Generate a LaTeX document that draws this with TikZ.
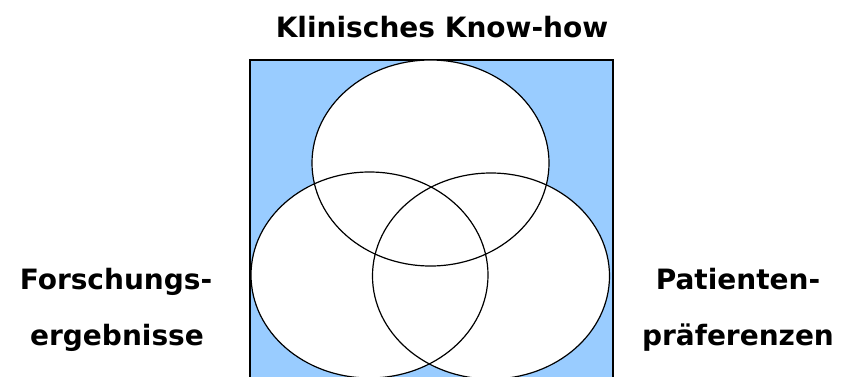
\documentclass[tikz,border=0pt]{standalone}
\usepackage{fontspec}
\setmainfont{DejaVu Sans}
\usetikzlibrary{shapes.geometric}
\definecolor{feldblau}{RGB}{153,204,255}
\begin{document}
\begin{tikzpicture}[x=1pt,y=-1pt,
    kreis/.style={ellipse,draw,line width=1.2pt,inner sep=0pt,
        minimum width=237pt,minimum height=206pt},
    beschriftung/.style={anchor=base,inner sep=0pt,
        font=\bfseries\fontsize{28}{34}\selectfont}]
    \useasboundingbox (0,0) rectangle (847,376);
    \clip (0,0) rectangle (847,376);
    \node[fill=feldblau,draw,line width=1.8pt,inner sep=0pt,anchor=north west,
        minimum width=363pt,minimum height=340pt] (feld) at (249,59) {};
    \foreach \x/\y in {430.5/163,369.5/275,491/276}
    \fill[white] (\x,\y) ellipse [x radius=118.5,y radius=103];
    \foreach \n/\x/\y in {wissen/430.5/163,forschung/369.5/275,patient/491/276}
    \node[kreis] (\n) at (\x,\y) {};
    \node[beschriftung] (titel) at (442,37) {Klinisches Know-how};
    \node[beschriftung] (links1) at (116,289) {Forschungs-};
    \node[beschriftung] (links2) at (117,345) {ergebnisse};
    \node[beschriftung] (rechts1) at (738,289) {Patienten-};
    \node[beschriftung] (rechts2) at (738,345) {präferenzen};
\end{tikzpicture}
\end{document}
